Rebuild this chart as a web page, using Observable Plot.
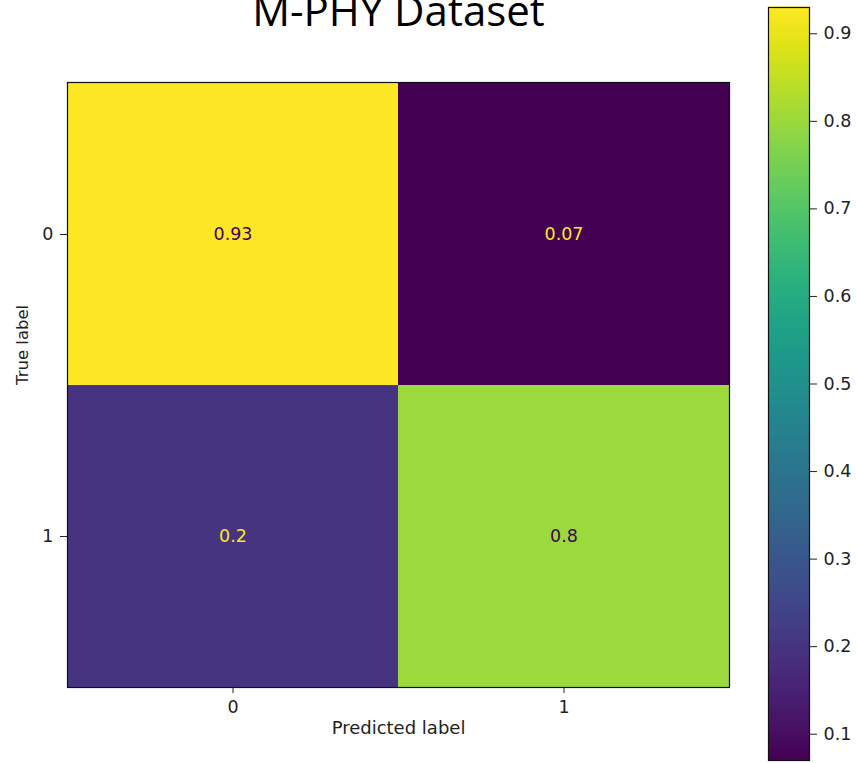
<!DOCTYPE html>
<html>
<head>
<meta charset="utf-8">
<script src="https://cdn.jsdelivr.net/npm/d3@7"></script>
<script src="https://cdn.jsdelivr.net/npm/@observablehq/plot@0.6"></script>
<style>
  html, body { margin: 0; padding: 0; background: #fff; }
  #wrap { position: relative; width: 856px; height: 763px; overflow: hidden; }
  #wrap svg { position: absolute; left: 0; top: 0; }
</style>
</head>
<body>
<div id="wrap"></div>
<script>
const title = "M-PHY Dataset";
const trueLabels = ["0", "0", "1", "1"];
const predictedLabels = ["0", "1", "0", "1"];
const values = [0.93, 0.07, 0.2, 0.8];
const classes = ["0", "1"];
const colorbarTicks = [0.1, 0.2, 0.3, 0.4, 0.5, 0.6, 0.7, 0.8, 0.9];
const colorDomain = [0.07, 0.93];

const cells = values.map((v, i) => ({ t: trueLabels[i], p: predictedLabels[i], v }));
const threshold = (d3.min(values) + d3.max(values)) / 2;
const lo = d3.interpolateViridis(0), hi = d3.interpolateViridis(1);

const font = { fontFamily: "DejaVu Sans, sans-serif", fontSize: "17px", color: "#222", background: "transparent" };

const main = Plot.plot({
  width: 856, height: 763,
  marginLeft: 67, marginRight: 127, marginTop: 82, marginBottom: 76,
  style: font,
  x: { type: "band", domain: classes, padding: 0 },
  y: { type: "band", domain: classes, padding: 0 },
  color: { type: "linear", domain: colorDomain, interpolate: d3.interpolateViridis },
  marks: [
    Plot.cell(cells, { x: "p", y: "t", fill: "v", inset: 0 }),
    Plot.text(cells, { x: "p", y: "t", text: d => String(d.v), fill: d => d.v < threshold ? hi : lo, fontSize: 17.5 }),
    Plot.frame({ stroke: "#111", strokeWidth: 1.2 }),
    Plot.axisX({ tickSize: 6, tickPadding: 7, label: null, stroke: "#222", fontSize: 17.5 }),
    Plot.axisY({ tickSize: 7, tickPadding: 7, label: null, stroke: "#222", fontSize: 17.5 }),
    Plot.text(["Predicted label"], { frameAnchor: "bottom", dy: 46, fontSize: 18, fill: "#222" }),
    Plot.text(["True label"], { frameAnchor: "left", rotate: -90, dx: -45, fontSize: 16.5, fill: "#222" }),
    Plot.text([title], { frameAnchor: "top", dy: -57, lineAnchor: "bottom", fontSize: 42, fontFamily: "Open Sans, sans-serif", fill: "#000" })
  ]
});

// Colour-bar ramp (legend gradient, not data)
const ramp = d3.range(0, 300).map(i => {
  const a = colorDomain[0] + (colorDomain[1] - colorDomain[0]) * i / 300;
  const b = colorDomain[0] + (colorDomain[1] - colorDomain[0]) * (i + 1) / 300;
  return { y1: a, y2: b, v: (a + b) / 2 };
});

const bar = Plot.plot({
  width: 856, height: 763,
  marginLeft: 768, marginRight: 47, marginTop: 7, marginBottom: 3,
  style: font,
  x: { domain: [0, 1], axis: null },
  y: { domain: colorDomain, axis: null },
  color: { type: "linear", domain: colorDomain, interpolate: d3.interpolateViridis },
  marks: [
    Plot.rect(ramp, { x1: 0, x2: 1, y1: "y1", y2: "y2", fill: "v", insetTop: -0.5, insetBottom: -0.5 }),
    Plot.frame({ stroke: "#111", strokeWidth: 1.2 }),
    Plot.axisY(colorbarTicks, { anchor: "right", tickSize: 7, tickPadding: 7, label: null, stroke: "#222", fontSize: 17.5, tickFormat: d => String(d) })
  ]
});
bar.style.pointerEvents = "none";

const wrap = document.getElementById("wrap");
wrap.appendChild(main);
wrap.appendChild(bar);
</script>
</body>
</html>
